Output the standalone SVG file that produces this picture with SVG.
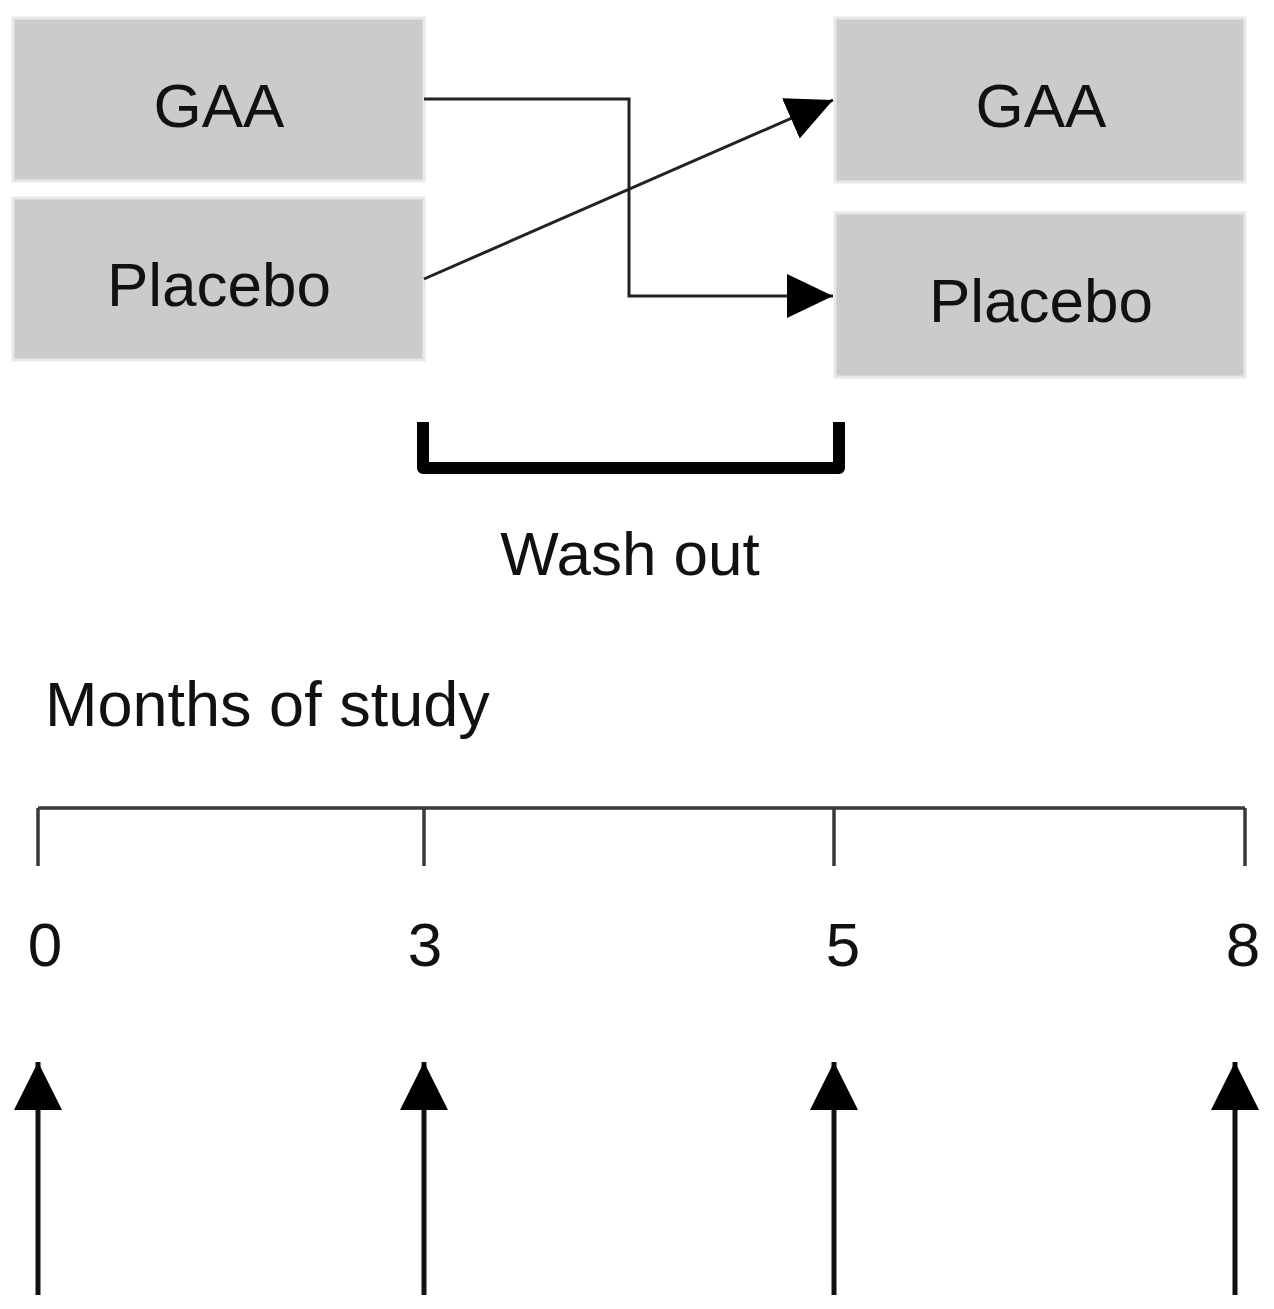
<svg xmlns="http://www.w3.org/2000/svg" width="1274" height="1309" viewBox="0 0 1274 1309">
  <defs>
    <style>
      .box { fill: #cbcbcb; stroke: #e8e8e8; stroke-width: 3; }
      .lbl { font-family: "Liberation Sans", Arial, sans-serif; font-size: 62px; fill: #111; }
      .conn { fill: none; stroke: #222; stroke-width: 3; }
      .tl { fill: none; stroke: #3a3a3a; stroke-width: 3.5; }
      .up { fill: none; stroke: #111; stroke-width: 5; }
    </style>
    <marker id="ah" markerUnits="userSpaceOnUse" markerWidth="48" markerHeight="48" viewBox="0 0 48 48" refX="46" refY="24" orient="auto">
      <path d="M0,2 L46,24 L0,46 Z" fill="#000"/>
    </marker>
    <marker id="uh" markerUnits="userSpaceOnUse" markerWidth="50" markerHeight="50" viewBox="0 0 50 50" refX="48" refY="25" orient="auto">
      <path d="M0,1 L48,25 L0,49 Z" fill="#000"/>
    </marker>
  </defs>
  <rect width="1274" height="1309" fill="#fff"/>

  <g id="gaa-left">
    <rect class="box" x="13" y="18" width="411" height="163"/>
    <text class="lbl" x="219" y="127" text-anchor="middle">GAA</text>
  </g>
  <g id="placebo-left">
    <rect class="box" x="13" y="198" width="411" height="162"/>
    <text class="lbl" x="219" y="306" text-anchor="middle">Placebo</text>
  </g>
  <g id="gaa-right">
    <rect class="box" x="835" y="18" width="410" height="164"/>
    <text class="lbl" x="1041" y="127" text-anchor="middle">GAA</text>
  </g>
  <g id="placebo-right">
    <rect class="box" x="835" y="213" width="410" height="164"/>
    <text class="lbl" x="1041" y="322" text-anchor="middle">Placebo</text>
  </g>

  <g id="connectors">
    <path class="conn" d="M424,99 H629 V296 H833" marker-end="url(#ah)"/>
    <path class="conn" d="M424,279 L833,100" marker-end="url(#ah)"/>
  </g>

  <g id="washout">
    <path d="M423,422 V468 H839 V422" fill="none" stroke="#000" stroke-width="12" stroke-linejoin="round"/>
    <text class="lbl" x="630" y="575" text-anchor="middle">Wash out</text>
  </g>

  <g id="timeline">
    <text class="lbl" x="45" y="726" style="font-size:63px">Months of study</text>
    <path class="tl" d="M38,808 H1245 M38,808 V866 M424,808 V866 M834,808 V866 M1245,808 V866"/>
    <text class="lbl" x="45" y="966" text-anchor="middle">0</text>
    <text class="lbl" x="425" y="966" text-anchor="middle">3</text>
    <text class="lbl" x="843" y="966" text-anchor="middle">5</text>
    <text class="lbl" x="1243" y="966" text-anchor="middle">8</text>
  </g>

  <g id="arrows">
    <path class="up" d="M38,1295 V1062" marker-end="url(#uh)"/>
    <path class="up" d="M424,1295 V1062" marker-end="url(#uh)"/>
    <path class="up" d="M834,1295 V1062" marker-end="url(#uh)"/>
    <path class="up" d="M1235,1295 V1062" marker-end="url(#uh)"/>
  </g>
</svg>
